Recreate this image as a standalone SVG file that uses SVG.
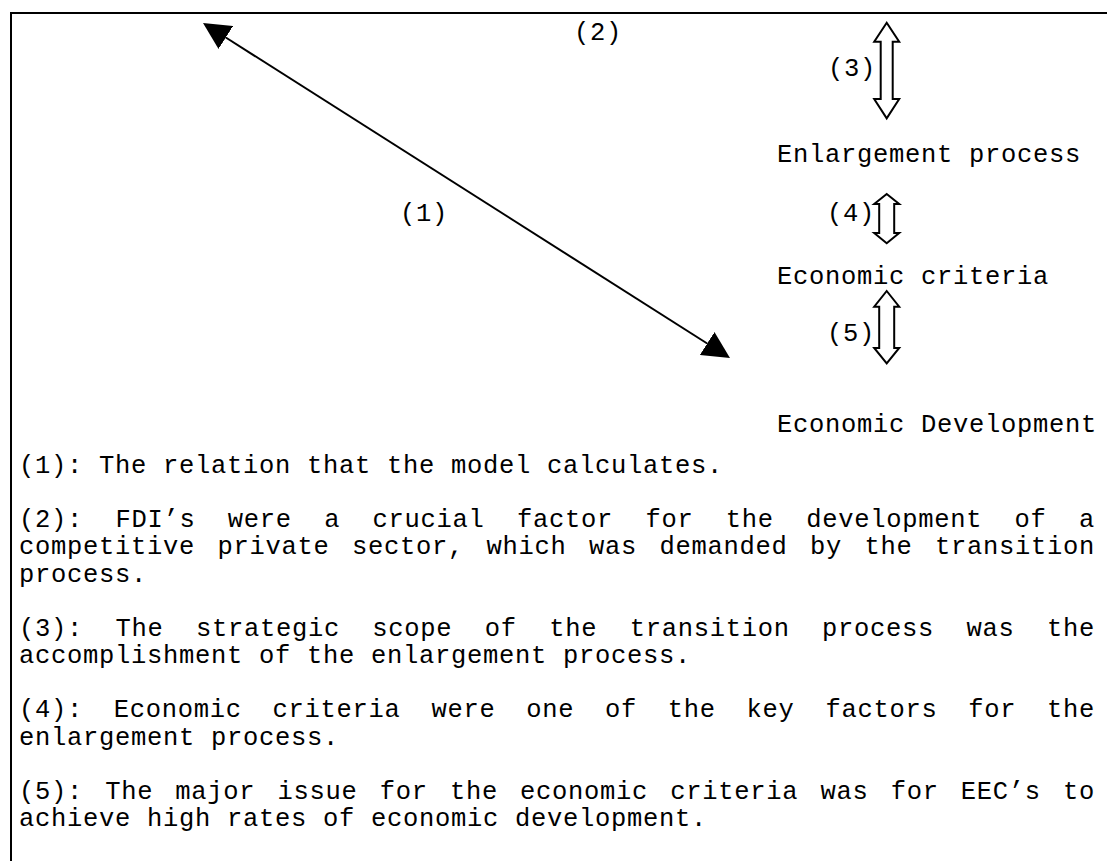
<svg xmlns="http://www.w3.org/2000/svg" width="1107" height="861" viewBox="0 0 1107 861">
<defs>
<style>
text{font-family:"Liberation Mono","Courier New",monospace;font-size:25.5px;letter-spacing:0.7px;fill:#000;}
.frame{fill:none;stroke:#000;stroke-width:2;}
.conn{fill:none;stroke:#000;stroke-width:2;}
.block{fill:#fff;stroke:#000;stroke-width:2;stroke-linejoin:miter;}
</style>
<marker id="tri" viewBox="0 0 27 27" refX="0" refY="13.5" markerWidth="27" markerHeight="27" markerUnits="userSpaceOnUse" orient="auto-start-reverse">
<path d="M0,0 L27,13.5 L0,27 Z" fill="#000"/>
</marker>
</defs>
<rect width="1107" height="861" fill="#fff"/>
<path class="frame" d="M11,861 L11,13 L1107,13"/>

<g id="connectors">
<line class="conn" x1="225.8" y1="37.5" x2="707.2" y2="343.5" marker-start="url(#tri)" marker-end="url(#tri)"/>
<path id="arrow3" class="block" d="M886.7,22.7 L899.2,41.7 L892.7,41.7 L892.7,99 L899.2,99 L886.7,118.3 L874.2,99 L880.7,99 L880.7,41.7 L874.2,41.7 Z"/>
<path id="arrow4" class="block" d="M886.7,194 L899.2,204 L894.2,204 L894.2,233 L899.2,233 L886.7,243.3 L874.2,233 L879.2,233 L879.2,204 L874.2,204 Z"/>
<path id="arrow5" class="block" d="M886.7,291 L899.2,306.7 L894.2,306.7 L894.2,348 L899.2,348 L886.7,363.3 L874.2,348 L879.2,348 L879.2,306.7 L874.2,306.7 Z"/>
<text x="400" y="221">(1)</text>
<text x="574" y="40">(2)</text>
<text x="828" y="76">(3)</text>
<text x="827" y="221">(4)</text>
<text x="827" y="341">(5)</text>
</g>

<g id="node-enlargement"><text x="777" y="162">Enlargement process</text></g>
<g id="node-criteria"><text x="777" y="284">Economic criteria</text></g>
<g id="node-development"><text x="777" y="432">Economic Development</text></g>

<g id="legend">
<text x="19" y="473">(1): The relation that the model calculates.</text>

<text y="527.3"><tspan x="19">(2):</tspan><tspan x="115.4">FDI’s</tspan><tspan x="227.8">were</tspan><tspan x="324.2">a</tspan><tspan x="372.6">crucial</tspan><tspan x="517">factor</tspan><tspan x="645.4">for</tspan><tspan x="725.8">the</tspan><tspan x="806.2">development</tspan><tspan x="1014.6">of</tspan><tspan x="1079">a</tspan></text>
<text y="554.45"><tspan x="19">competitive</tspan><tspan x="217.5">private</tspan><tspan x="352">sector,</tspan><tspan x="486.5">which</tspan><tspan x="589">was</tspan><tspan x="659.5">demanded</tspan><tspan x="810">by</tspan><tspan x="864.5">the</tspan><tspan x="935">transition</tspan></text>
<text x="19" y="581.6">process.</text>

<text y="635.9"><tspan x="19">(3):</tspan><tspan x="115.44">The</tspan><tspan x="195.89">strategic</tspan><tspan x="372.33">scope</tspan><tspan x="484.78">of</tspan><tspan x="549.22">the</tspan><tspan x="629.67">transition</tspan><tspan x="822.11">process</tspan><tspan x="966.56">was</tspan><tspan x="1047">the</tspan></text>
<text x="19" y="663.05">accomplishment of the enlargement process.</text>

<text y="717.35"><tspan x="19">(4):</tspan><tspan x="113.8">Economic</tspan><tspan x="272.6">criteria</tspan><tspan x="431.4">were</tspan><tspan x="526.2">one</tspan><tspan x="605">of</tspan><tspan x="667.8">the</tspan><tspan x="746.6">key</tspan><tspan x="825.4">factors</tspan><tspan x="968.2">for</tspan><tspan x="1047">the</tspan></text>
<text x="19" y="744.5">enlargement process.</text>

<text y="798.8"><tspan x="19">(5):</tspan><tspan x="105.18">The</tspan><tspan x="175.36">major</tspan><tspan x="277.55">issue</tspan><tspan x="379.73">for</tspan><tspan x="449.91">the</tspan><tspan x="520.09">economic</tspan><tspan x="670.27">criteria</tspan><tspan x="820.45">was</tspan><tspan x="890.64">for</tspan><tspan x="960.82">EEC’s</tspan><tspan x="1063">to</tspan></text>
<text x="19" y="825.95">achieve high rates of economic development.</text>
</g>
</svg>
